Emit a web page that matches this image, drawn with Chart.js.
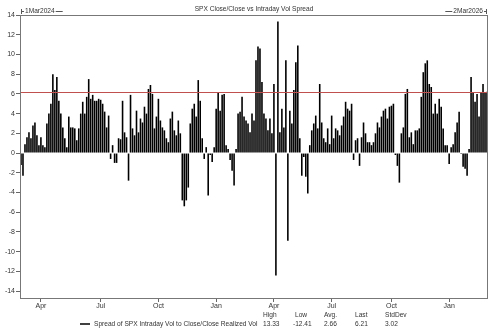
<!DOCTYPE html>
<html>
<head>
<meta charset="utf-8">
<script src="https://cdn.jsdelivr.net/npm/chart.js@4.4.0/dist/chart.umd.min.js"></script>
<style>
  body { margin: 0; background: #fff; }
  #wrap { width: 500px; height: 333px; }
</style>
</head>
<body>
<div id="wrap"><canvas id="spreadChart"></canvas></div>
<script>
const startDate = '2024-03-01';
const endDate = '2026-03-02';

// spread values, roughly every 3 calendar days
const spread = [
  -1.2, -2.3, 0.9, 1.6, 2.1, 1.5, 2.8, 3.1, 1.8, 0.8, 1.6, 0.8, 0.6, 3.0, 4.0, 5.0, 8.0, 6.4, 7.7, 5.3,
  4.0, 2.6, 1.5, 0.6, 3.7, 2.6, 2.6, 2.5, 1.3, 2.5, 4.0, 5.2, 4.0, 5.7, 7.5, 5.5, 5.9, 5.3, 5.3, 5.5,
  5.4, 5.0, 4.2, 2.6, 3.8, -0.6, 0.8, -1.0, -1.0, 1.5, 1.4, 5.3, 2.1, 1.6, -2.8, 5.9, 2.5, 1.8, 4.3, 2.1,
  3.5, 3.1, 4.7, 4.0, 6.5, 6.9, 6.0, 2.5, 3.7, 5.5, 3.3, 2.6, 2.3, 1.5, 1.1, 3.5, 4.2, 2.3, 1.8, 3.3,
  2.0, -4.8, -5.4, -4.8, -3.5, 3.0, 4.5, 5.0, 3.7, 7.4, 5.3, 1.5, -0.6, 0.6, -4.3, -0.2, -0.9, 0.6, 4.5, 6.2,
  4.3, 5.9, 6.0, 0.8, 0.4, -0.7, -1.8, -3.3, 0.4, 4.0, 4.2, 5.7, 3.7, 3.3, 3.0, 2.1, 4.0, 3.3, 9.4, 10.8,
  10.6, 7.2, 4.0, 3.5, 2.3, 3.5, 2.0, 7.0, -12.41, 13.33, 2.1, 4.5, 2.6, 9.4, -8.9, 4.3, 3.0, 6.4, 9.2, 10.9,
  1.5, -2.3, -0.4, -2.4, -4.1, 0.8, 2.3, 3.0, 3.8, 2.5, 7.0, 3.1, 1.5, 1.1, 2.5, 0.9, 3.8, 1.5, 2.5, 2.3,
  1.8, 2.8, 3.7, 5.2, 4.5, 4.3, 5.0, -0.7, 1.3, 1.5, -1.3, 1.6, 3.1, 2.0, 1.1, 1.1, 0.8, 1.1, 2.0, 3.1,
  2.6, 3.7, 4.3, 4.5, 3.5, 4.7, 4.8, 5.0, -0.2, -1.3, -3.0, 2.0, 2.6, 6.0, 6.5, 1.6, 2.1, 0.9, 2.3, 2.3,
  2.5, 5.7, 8.2, 9.1, 9.4, 7.0, 6.7, 4.0, 5.0, 4.0, 5.5, 4.7, 2.5, 0.8, 0.8, -1.1, 0.6, 0.9, 2.1, 3.1,
  4.2, -0.1, -1.4, -1.6, -2.3, 0.4, 7.7, 6.2, 5.2, 6.0, 3.7, 6.2, 7.0, 6.2, 6.21
];

const yTicks = [-14, -12, -10, -8, -6, -4, -2, 0, 2, 4, 6, 8, 10, 12, 14];
const monthNames = ['Jan', 'Feb', 'Mar', 'Apr', 'May', 'Jun', 'Jul', 'Aug', 'Sep', 'Oct', 'Nov', 'Dec'];
const tickMonths = [0, 3, 6, 9];

const statNames = ['High', 'Low', 'Avg.', 'Last', 'StdDev'];
const statValues = ['13.33', '-12.41', '2.66', '6.21', '3.02'];
const lastValue = 6.21;
const seriesName = 'Spread of SPX Intraday Vol to Close/Close Realized Vol';
const chartTitle = 'SPX Close/Close vs Intraday Vol Spread';

// one date per bar, spread evenly between start and end
const t0 = new Date(startDate + 'T00:00:00Z').getTime();
const t1 = new Date(endDate + 'T00:00:00Z').getTime();
const dates = spread.map((v, i) => new Date(t0 + (t1 - t0) * i / (spread.length - 1)));
const categories = dates.map(d => d.toISOString().slice(0, 10));

function tickLabel(i) {
    if (i === 0) return '';
    const m = dates[i].getUTCMonth();
    if (m !== dates[i - 1].getUTCMonth() && tickMonths.includes(m)) return monthNames[m];
    return '';
}

const FONT = '"Liberation Sans", Arial, sans-serif';
const TXT = '#333';

const decorations = {
    id: 'decorations',
    afterDatasetsDraw(chart) {
        const {ctx, chartArea: a, scales} = chart;
        ctx.save();
        // red reference line at last value
        const yl = Math.round(scales.y.getPixelForValue(lastValue)) + 0.5;
        ctx.strokeStyle = '#c0504d';
        ctx.lineWidth = 1;
        ctx.beginPath();
        ctx.moveTo(a.left, yl);
        ctx.lineTo(a.right, yl);
        ctx.stroke();
        // frame
        ctx.strokeStyle = '#777';
        ctx.strokeRect(Math.round(a.left) + 0.5, Math.round(a.top) + 0.5,
            Math.round(a.right - a.left) - 1, Math.round(a.bottom - a.top));

        ctx.fillStyle = TXT;
        ctx.strokeStyle = '#555';
        ctx.font = '6.6px ' + FONT;
        ctx.textBaseline = 'middle';
        // title
        ctx.textAlign = 'center';
        ctx.fillText(chartTitle, (a.left + a.right) / 2, 9);

        // start / end markers
        const ym = 11.5;
        ctx.textAlign = 'left';
        ctx.fillText('1Mar2024', a.left + 5, ym);
        let w = ctx.measureText('1Mar2024').width;
        ctx.beginPath();
        ctx.moveTo(a.left + 1.5, ym - 2.5); ctx.lineTo(a.left + 1.5, ym + 2.5);
        ctx.moveTo(a.left + 1.5, ym); ctx.lineTo(a.left + 4, ym);
        ctx.moveTo(a.left + 6 + w, ym); ctx.lineTo(a.left + 13 + w, ym);
        ctx.stroke();
        ctx.textAlign = 'right';
        ctx.fillText('2Mar2026', a.right - 5, ym);
        w = ctx.measureText('2Mar2026').width;
        ctx.beginPath();
        ctx.moveTo(a.right - 1.5, ym - 2.5); ctx.lineTo(a.right - 1.5, ym + 2.5);
        ctx.moveTo(a.right - 1.5, ym); ctx.lineTo(a.right - 4, ym);
        ctx.moveTo(a.right - 6 - w, ym); ctx.lineTo(a.right - 13 - w, ym);
        ctx.stroke();

        // legend + stats
        const yh = 315, yv = 324;
        ctx.strokeStyle = '#000';
        ctx.lineWidth = 1.5;
        ctx.beginPath();
        ctx.moveTo(80, yv); ctx.lineTo(90, yv);
        ctx.stroke();
        ctx.textAlign = 'left';
        ctx.fillText(seriesName, 94, yv);
        const statX = [263, 293, 324, 355, 385];
        statNames.forEach((s, i) => ctx.fillText(s, statX[i] + (i === 1 ? 2 : 0), yh));
        statValues.forEach((s, i) => ctx.fillText(s, statX[i], yv));
        ctx.restore();
    }
};

const ctx = document.getElementById('spreadChart').getContext('2d');

const spreadChart = new Chart(ctx, {
    type: 'bar',
    data: {
        labels: categories,
        datasets: [{
            label: seriesName,
            data: spread,
            backgroundColor: '#000',
            borderWidth: 0,
            barPercentage: 0.8,
            categoryPercentage: 1
        }]
    },
    options: {
        responsive: true,
        maintainAspectRatio: false,
        animation: false,
        layout: { padding: { top: 15, right: 12, bottom: 21, left: 0 } },
        scales: {
            x: {
                offset: true,
                afterFit: s => { s.height = 14; },
                grid: {
                    offset: false,
                    drawOnChartArea: false,
                    drawTicks: true,
                    tickLength: 4,
                    color: c => (c.tick && c.tick.label) ? '#666' : 'rgba(0,0,0,0)'
                },
                border: { display: false },
                ticks: {
                    autoSkip: false,
                    maxRotation: 0,
                    padding: 0,
                    color: TXT,
                    font: { family: FONT, size: 7 },
                    callback: (v, i) => tickLabel(i)
                }
            },
            y: {
                min: -14.7,
                max: 14,
                afterBuildTicks: s => { s.ticks = yTicks.map(v => ({ value: v })); },
                afterFit: s => { s.width = 20; },
                grid: {
                    drawOnChartArea: false,
                    drawTicks: true,
                    tickLength: 4,
                    color: '#666'
                },
                border: { display: false },
                ticks: {
                    padding: 1,
                    color: TXT,
                    font: { family: FONT, size: 7 }
                }
            }
        },
        plugins: {
            legend: { display: false },
            tooltip: { enabled: false }
        }
    },
    plugins: [decorations]
});
</script>
</body>
</html>
